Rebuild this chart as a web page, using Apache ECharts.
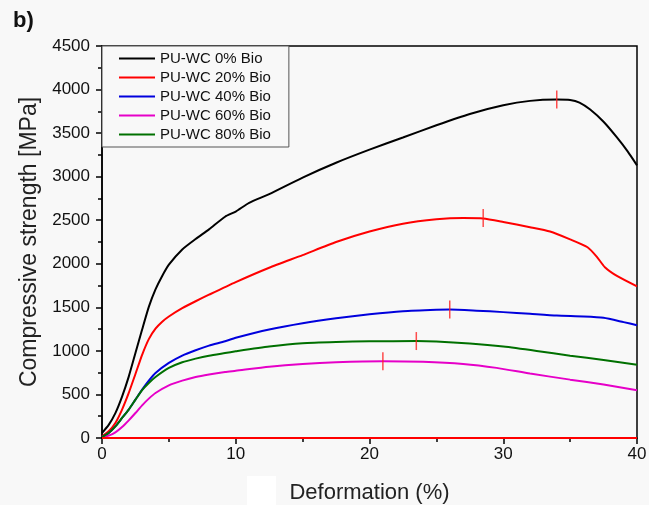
<!DOCTYPE html>
<html>
<head>
<meta charset="utf-8">
<script src="https://cdn.jsdelivr.net/npm/echarts@6/dist/echarts.min.js"></script>
<style>
html,body{margin:0;padding:0;background:#f8f8f8;}
#chart{width:649px;height:505px;}
</style>
</head>
<body>
<div id="chart"></div>
<script>
var seriesNames = ['PU-WC 0% Bio','PU-WC 20% Bio','PU-WC 40% Bio','PU-WC 60% Bio','PU-WC 80% Bio'];
var seriesColors = ['#000000','#ff0000','#0000dd','#e600c8','#007000'];

var bio0 = [[0,57],[0.5,150],[1,285],[1.5,475],[2,705],[2.5,975],[3,1245],[3.5,1505],[4,1705],[4.5,1860],[5,1990],[6,2165],[7,2285],[8,2395],[9.2,2540],[10,2600],[11,2700],[12.5,2800],[15,2990],[17.5,3160],[20,3310],[22.5,3450],[25,3590],[27.5,3720],[30,3820],[32,3870],[34,3885],[35,3880],[35.7,3850],[36.5,3770],[37.5,3630],[38.5,3450],[39.3,3290],[40,3130]];
var bio20 = [[0,20],[0.5,77],[1,172],[1.5,326],[2,517],[2.5,735],[3,955],[3.5,1135],[4,1255],[4.5,1335],[5,1395],[6,1490],[7,1570],[8,1645],[10,1790],[12.5,1955],[15,2100],[17.5,2250],[20,2370],[22.5,2460],[25,2510],[27,2525],[28.5,2520],[30,2480],[32,2420],[33.5,2370],[35,2280],[36.3,2190],[37,2080],[37.6,1960],[38.5,1860],[40,1740]];
var bio40 = [[0,10],[0.5,57],[1,134],[1.5,230],[2,326],[2.5,440],[3,555],[3.5,659],[4,747],[5,862],[6,946],[7,1007],[8,1060],[9.2,1110],[10,1150],[12.5,1245],[15,1318],[17.5,1375],[20,1420],[22.5,1455],[25,1472],[26,1475],[28,1462],[30,1445],[32,1425],[34,1405],[36,1395],[37.5,1380],[39,1330],[40,1295]];
var bio60 = [[0,5],[0.5,27],[1,65],[1.5,126],[2,203],[2.5,287],[3,375],[3.5,452],[4,517],[5,605],[6,659],[7,701],[8,730],[9.2,758],[10,772],[12.5,818],[15,850],[17.5,870],[21,882],[24,875],[27,850],[29.5,805],[32,740],[35,670],[37.5,615],[40,548]];
var bio80 = [[0,10],[0.5,57],[1,134],[1.5,230],[2,326],[2.5,440],[3,550],[3.5,632],[4,700],[5,804],[6,869],[7,911],[8,945],[9.2,975],[10,995],[12.5,1050],[15,1088],[17.5,1102],[20,1110],[23.5,1113],[25,1108],[27.5,1085],[30,1050],[32.5,1000],[35,945],[37.5,895],[40,840]];
var baseline = [[0,0],[40,0]];
var peakX = [34, 28.5, 26, 21, 23.5];
var peakY = [3885, 2525, 1475, 882, 1113];

var allData = [bio0, bio20, bio40, bio60, bio80];
var font = 'Liberation Sans, Arial, sans-serif';

var series = [];
allData.forEach(function(d, i){
  series.push({
    name: seriesNames[i], type: 'line', data: d, showSymbol: false,
    smooth: 0.2,
    lineStyle: {color: seriesColors[i], width: 2},
    itemStyle: {color: seriesColors[i]}, z: 3
  });
});
series.push({
  name: 'base', type: 'line', data: baseline, showSymbol: false,
  lineStyle: {color: '#ff0000', width: 2}, z: 4
});
series.push({
  name: 'peaks', type: 'scatter',
  data: peakX.map(function(x, i){ return [x, peakY[i]]; }),
  symbol: 'rect', symbolSize: [1.5, 18],
  itemStyle: {color: '#ff2020'}, z: 5
});

var chart = echarts.init(document.getElementById('chart'), null, {renderer: 'canvas'});
chart.setOption({
  backgroundColor: '#f8f8f8',
  animation: false,
  textStyle: {fontFamily: font},
  graphic: [
    {type: 'rect', shape: {x: 247, y: 476, width: 29, height: 29}, style: {fill: '#ffffff'}},
    {type: 'text', left: 13, top: 10, style: {text: 'b)', font: 'bold 22px ' + font, fill: '#111'}}
  ],
  grid: {left: 102, top: 46, right: 12, bottom: 67, outerBoundsMode: 'none', containLabel: false, show: true, borderColor: '#000', borderWidth: 1.5, backgroundColor: '#f8f8f8'},
  legend: {
    data: seriesNames, orient: 'vertical', left: 102, top: 46,
    backgroundColor: '#f8f8f8', borderColor: '#555', borderWidth: 1,
    padding: [5, 18, 5, 17], itemGap: 4, itemWidth: 36, itemHeight: 2,
    icon: 'rect',
    textStyle: {fontSize: 15, color: '#111', fontFamily: font, lineHeight: 15}
  },
  xAxis: {
    type: 'value', min: 0, max: 40, interval: 10,
    name: 'Deformation (%)', nameLocation: 'middle', nameGap: 44,
    nameTextStyle: {fontSize: 22, color: '#222', fontFamily: font},
    axisLine: {lineStyle: {color: '#000', width: 1.5}},
    axisTick: {show: true, inside: false, length: 6, lineStyle: {color: '#000', width: 1.5}},
    minorTick: {show: true, splitNumber: 2, length: 4, lineStyle: {color: '#000', width: 1.5}},
    axisLabel: {fontSize: 17, color: '#111', margin: 8, fontFamily: font},
    splitLine: {show: false}
  },
  yAxis: {
    type: 'value', min: 0, max: 4500, interval: 500,
    name: 'Compressive strength [MPa]', nameLocation: 'middle', nameGap: 59,
    nameTextStyle: {fontSize: 23, color: '#222', fontFamily: font},
    axisLine: {show: true, lineStyle: {color: '#000', width: 1.5}},
    axisTick: {show: true, inside: false, length: 6, lineStyle: {color: '#000', width: 1.5}},
    minorTick: {show: true, splitNumber: 2, length: 4, lineStyle: {color: '#000', width: 1.5}},
    axisLabel: {fontSize: 17, color: '#111', margin: 12, fontFamily: font, formatter: function(v){ return String(v); }},
    splitLine: {show: false}
  },
  series: series
});
</script>
</body>
</html>
